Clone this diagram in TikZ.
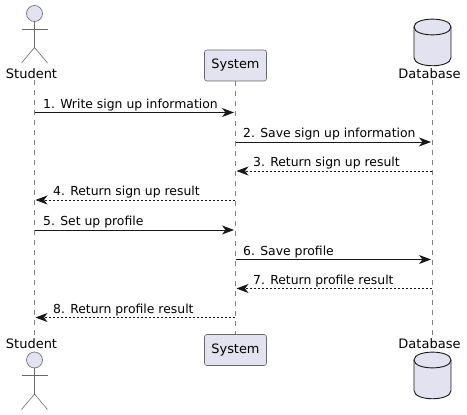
\documentclass[tikz,border=0pt]{standalone}
\usepackage{fontspec}
\setmainfont{DejaVu Sans}
\usetikzlibrary{arrows.meta}
\definecolor{partFill}{HTML}{E2E2F0}
\definecolor{partLine}{HTML}{181818}
%% The stick figure of an actor.
\newcommand{\actorFig}[2]{%%
  \draw[figStyle,fill=partFill] (#1,#2) circle (8);
  \draw[figStyle] (#1,#2+8) -- (#1,#2+34);
  \draw[figStyle] (#1-13,#2+15.5) -- (#1+13,#2+15.5);
  \draw[figStyle] (#1-13,#2+49.5) -- (#1,#2+34) -- (#1+13,#2+49.5);
}
%% The can of the database, #2 is its top edge.
\newcommand{\canFig}[2]{%%
  \draw[canStyle,fill=partFill] (#1-18.5,#2+8) .. controls (#1-18.5,#2-2.5) and (#1+18.5,#2-2.5) .. (#1+18.5,#2+8)
    -- (#1+18.5,#2+38.5) .. controls (#1+18.5,#2+49.5) and (#1-18.5,#2+49.5) .. (#1-18.5,#2+38.5) -- cycle;
  \draw[canStyle] (#1-18.5,#2+8) .. controls (#1-18.5,#2+18.5) and (#1+18.5,#2+18.5) .. (#1+18.5,#2+8);
}
\begin{document}
\begin{tikzpicture}[%%
  x=1pt,y=-1pt,%%
  figStyle/.style={draw=partLine!65,line width=.6pt},%%
  canStyle/.style={draw=partLine,line width=.9pt},%%
  lifeStyle/.style={draw=partLine!55,line width=.5pt,dash pattern=on 5pt off 5pt},%%
  nameStyle/.style={inner sep=0pt,font=\fontsize{13}{16}\selectfont,text=black},%%
  boxStyle/.style={inner sep=0pt,font=\fontsize{12.9}{16}\selectfont,text=black,%%
    draw=partLine!65,line width=.6pt,fill=partFill,rounded corners=2.5pt,%%
    minimum width=62pt,minimum height=31pt},%%
  textStyle/.style={anchor=base west,inner sep=0pt,font=\fontsize{12.4}{14}\selectfont,text=black},%%
  msgStyle/.style={draw=partLine,line width=.9pt,-{Stealth[length=12pt,width=9pt,inset=3.5pt]}},%%
  retStyle/.style={msgStyle,dash pattern=on 2pt off 2pt},%%
]
\useasboundingbox (0,0) rectangle (467,415);
%%
%% The life lines go first, the participants stay on top of them.
\coordinate (studentA) at (34.5,80);
\coordinate (studentB) at (34.5,336);
\coordinate (databaseA) at (432.5,80);
\coordinate (databaseB) at (432.5,336);
\coordinate (systemA) at (235.5,81);
\coordinate (systemB) at (235.5,335);
\draw[lifeStyle] (studentA) -- (studentB);
\draw[lifeStyle] (systemA) -- (systemB);
\draw[lifeStyle] (databaseA) -- (databaseB);
%%
%% The participants, top and bottom.
\actorFig{34.5}{13.5}
\actorFig{34.5}{360}
\canFig{432.5}{19}
\canFig{432.5}{352}
\node[boxStyle] (systemTop) at (235.5,65.5) {System};
\node[boxStyle] (systemBot) at (235.5,350) {System};
\node[nameStyle] (studentTop) at (31.5,73.5) {Student};
\node[nameStyle] (studentBot) at (31.5,343.5) {Student};
\node[nameStyle] (databaseTop) at (429.5,73.5) {Database};
\node[nameStyle] (databaseBot) at (429.5,343.5) {Database};
%%
%% The messages.
\foreach \num/\yy/\fromx/\tox/\kind/\labelx/\txt in {%%
  1/112.5/34.5/234/msgStyle/43/1. Write sign up information,%%
  2/142/235.5/431/msgStyle/243/2. Save sign up information,%%
  3/171/432/236.5/retStyle/253/3. Return sign up result,%%
  4/200/235/35.5/retStyle/53/4. Return sign up result,%%
  5/230/34.5/234/msgStyle/43/5. Set up profile,%%
  6/259.5/235.5/431/msgStyle/243/6. Save profile,%%
  7/288.5/432/236.5/retStyle/253/7. Return profile result,%%
  8/317.5/235/35.5/retStyle/53/8. Return profile result%%
}{%%
  \coordinate (from\num) at (\fromx,\yy);
  \coordinate (to\num) at (\tox,\yy);
  \draw[\kind] (from\num) -- (to\num);
  \node[textStyle] (label\num) at (\labelx,\yy-4.5) {\txt};
}
\end{tikzpicture}
\end{document}
